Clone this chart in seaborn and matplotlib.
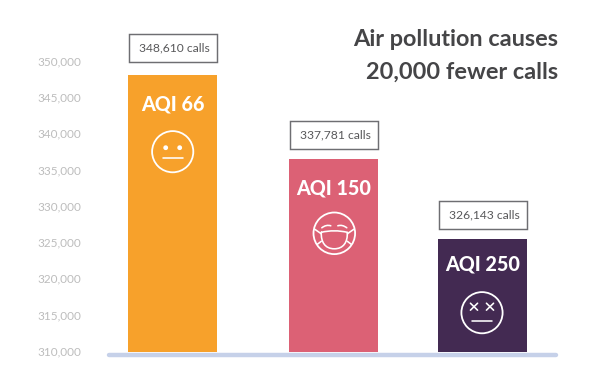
import matplotlib
matplotlib.use("Agg")
import matplotlib.pyplot as plt
from matplotlib.patches import Circle, PathPatch, Rectangle
from matplotlib.path import Path
from matplotlib.transforms import Affine2D
import pandas as pd
import seaborn as sns

categories = ["AQI 66", "AQI 150", "AQI 250"]
bar_values = [348140, 336570, 325560]
call_labels = ["348,610 calls", "337,781 calls", "326,143 calls"]
tick_values = [310000, 315000, 320000, 325000, 330000, 335000, 340000, 345000, 350000]
colors = ["#F7A12B", "#DC6175", "#432A52"]
slots = [172.5, 333.5, 482.5]

sns.set_theme(style="white")
plt.rcParams["font.family"] = ["Lato", "DejaVu Sans"]

W, H = 600, 375
fig = plt.figure(figsize=(6, 3.75), dpi=100, facecolor="white")
L, R, T, B = 107, 558, 61.5, 352
ax = fig.add_axes([L / W, 1 - B / H, (R - L) / W, (B - T) / H])
df = pd.DataFrame({"slot": slots, "calls": bar_values, "cat": categories})
sns.barplot(data=df, x="slot", y="calls", hue="cat", palette=colors, native_scale=True,
            width=89 / 149, dodge=False, legend=False, ax=ax, saturation=1, linewidth=0)
ax.set_xlim(L, R)
ax.set_ylim(310000, 350000)
ax.set_xlabel("")
ax.set_ylabel("")
ax.set_xticks([])
ax.set_yticks(tick_values)
ax.set_yticklabels([f"{v:,}" for v in tick_values], color="#BDBDBD", fontsize=8.5)
ax.tick_params(axis="y", length=0, pad=18.5)
for lab in ax.get_yticklabels():
    lab.set_transform(lab.get_transform() + Affine2D().translate(0, 1))
for s in ax.spines.values():
    s.set_visible(False)

px = Affine2D().scale(1, -1).translate(0, H)
WHITE = dict(color="white", lw=1.15, solid_capstyle="round", transform=px, zorder=6, clip_on=False)


def line(xs, ys, **kw):
    fig.add_artist(plt.Line2D(xs, ys, **{**WHITE, **kw}))


def ring(cx, cy, r):
    fig.add_artist(Circle((cx, cy), r, fill=False, ec="white", lw=1.3, transform=px, zorder=6))


def curve(verts, codes):
    fig.add_artist(PathPatch(Path(verts, codes), fill=False, ec="white", lw=1.15,
                             transform=px, zorder=6, capstyle="round"))


# baseline
line([L + 2, R - 2], [355, 355], color="#C6D1E9", lw=3.2)

# call boxes
box_tops = [34, 120.5, 201]
for cx, top, lab in zip(slots, box_tops, call_labels):
    fig.add_artist(Rectangle((cx - 44, top), 88, 28, fill=True, fc="white", ec="#6E6E72", lw=1.05,
                             transform=px, zorder=5))
    fig.text(cx + 1.5, top + 14, lab, color="#58585A", fontsize=8.7, ha="center", va="center",
             transform=px, zorder=6)

# bar titles
for cx, y, lab in zip(slots, [104, 188, 264], categories):
    fig.text(cx, y, lab, color="white", fontsize=14.2, fontweight=900, ha="center", va="center",
             transform=px, zorder=6)

# neutral face
cx, cy = 172.7, 151.7
ring(cx, cy, 20.6)
for dx in (-7, 7):
    fig.add_artist(Circle((cx + dx, cy - 4), 2.4, fc="white", ec="none", transform=px, zorder=6))
line([cx - 10, cx + 10], [cy + 6, cy + 6])

# masked face
cx, cy = 334.3, 233.3
ring(cx, cy, 20.8)
M, C3, C4, LT = Path.MOVETO, Path.CURVE3, Path.CURVE4, Path.LINETO
curve([(cx - 13, cy - 1), (cx, cy - 4), (cx + 13, cy - 1),
       (cx + 13.5, cy + 9), (cx + 9, cy + 15.5), (cx, cy + 15.5),
       (cx - 9, cy + 15.5), (cx - 13.5, cy + 9), (cx - 13, cy - 1)],
      [M, C3, C3, C4, C4, C4, C4, C4, C4])
for sx in (-1, 1):
    line([cx + sx * 13, cx + sx * 19.5], [cy + 0.5, cy - 4])
    line([cx + sx * 13, cx + sx * 17], [cy + 8, cy + 11])
    curve([(cx + sx * 12.5, cy - 5.5), (cx + sx * 8, cy - 9), (cx + sx * 3.5, cy - 7.5)], [M, C3, C3])

# knocked-out face
cx, cy = 482, 312.7
ring(cx, cy, 20.6)
for dx in (-8, 8):
    line([cx + dx - 3.6, cx + dx + 3.6], [cy - 9.5, cy - 2.5])
    line([cx + dx - 3.6, cx + dx + 3.6], [cy - 2.5, cy - 9.5])
line([cx - 10, cx + 10], [cy + 8, cy + 8])

# headline
for y, t in zip([40, 72], ["Air pollution causes", "20,000 fewer calls"]):
    fig.text(558, y, t, color="#454547", fontsize=16.9, fontweight="bold", ha="right", va="center",
             transform=px)

fig.savefig("out.png", dpi=100)
